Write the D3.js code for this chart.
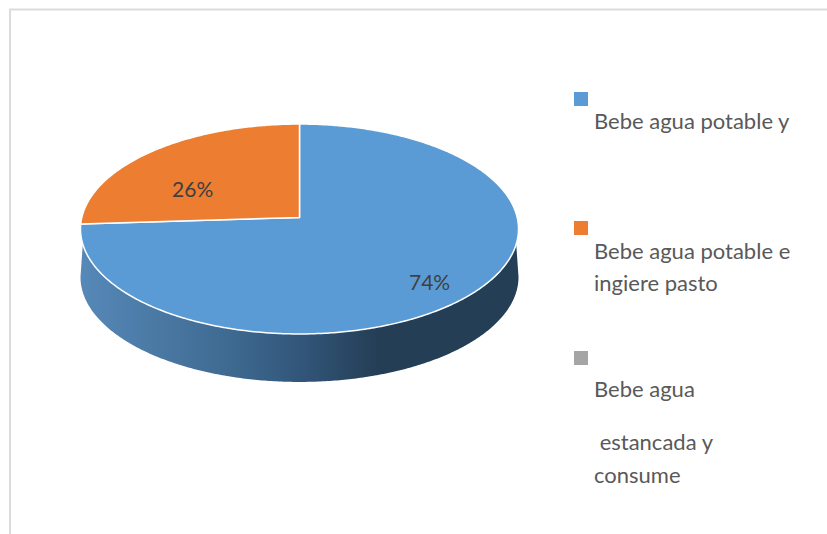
<!DOCTYPE html>
<html>
<head>
<meta charset="utf-8">
<script src="https://cdn.jsdelivr.net/npm/d3@7"></script>
<style>
  html, body { margin: 0; padding: 0; background: #fff; }
  svg { display: block; }
  text { font-family: Lato, "Open Sans", sans-serif; white-space: pre; }
</style>
</head>
<body>
<div id="chart"></div>
<script>
// data
var sliceNames = ["Bebe agua potable y", "Bebe agua potable e ingiere pasto", "Bebe agua estancada y consume"];
var sliceValues = [74, 26, 0];
var sliceColors = ["#5b9bd5", "#ed7d31", "#a5a5a5"];
var legendLines = [["Bebe agua potable y"], ["Bebe agua potable e", "ingiere pasto"], ["Bebe agua", " estancada y", "consume"]];

// layout
var width = 827, height = 534;
var cx = 299.5, cy = 217.5;   // where the pie centre lands after the tilt
var depth = 48;
var tilt = 0.1095, scaleX = 217.7, scaleY = 103.7;

var svg = d3.select("#chart").append("svg")
  .attr("width", width)
  .attr("height", height)
  .attr("viewBox", "0 0 " + width + " " + height);

// frame, only top and left are in the picture
svg.append("path")
  .attr("d", "M10,534V9.5H827")
  .attr("fill", "none")
  .attr("stroke", "#dcdcdc")
  .attr("stroke-width", 2);

// perspective: a point on the unit disc, angle from 12 o'clock going clockwise
function project(angle, r) {
  var u = Math.sin(angle) * r;
  var v = -Math.cos(angle) * r;
  var w = 1 - tilt * v;
  return [cx + scaleX * u / w, cy + scaleY * v / w];
}

function arcPoints(a0, a1) {
  var n = Math.max(2, Math.ceil(Math.abs(a1 - a0) / 0.01));
  return d3.range(n + 1).map(function(i) {
    return a0 + (a1 - a0) * i / n;
  });
}

var line = d3.line();

var pie = d3.pie().sort(null).value(function(d) { return d; });
var slices = pie(sliceValues);

// side wall gradient
var grad = svg.append("defs").append("linearGradient")
  .attr("id", "wall")
  .attr("gradientUnits", "userSpaceOnUse")
  .attr("x1", 81).attr("x2", 519).attr("y1", 0).attr("y2", 0);
[[0, "#5688b8"], [0.33, "#3f6b92"], [0.5, "#32567a"], [0.68, "#243e55"], [1, "#243e55"]].forEach(function(s) {
  grad.append("stop").attr("offset", s[0]).attr("stop-color", s[1]);
});

// wall goes along the front of the rim and back along the same rim pushed down
var rimSkip = Math.asin(0.25);
var lowSkip = Math.asin(tilt);
var upper = arcPoints(Math.PI / 2 + rimSkip, 3 * Math.PI / 2 - rimSkip).map(function(a) {
  return project(a, 1);
});
var lower = arcPoints(3 * Math.PI / 2 - lowSkip, Math.PI / 2 + lowSkip).map(function(a) {
  var p = project(a, 1);
  return [p[0], p[1] + depth];
});

svg.append("path")
  .attr("d", line(upper.concat(lower)) + "Z")
  .attr("fill", "url(#wall)");

// top face
svg.selectAll("path.slice")
  .data(slices.filter(function(d) { return d.value > 0; }))
  .enter().append("path")
  .attr("class", "slice")
  .attr("d", function(d) {
    var pts = arcPoints(d.startAngle, d.endAngle).map(function(a) { return project(a, 1); });
    return line([[cx, cy]].concat(pts)) + "Z";
  })
  .attr("fill", function(d) { return sliceColors[d.index]; })
  .attr("stroke", "#fff")
  .attr("stroke-width", 1.5)
  .attr("stroke-linejoin", "round");

// percent labels, excel nudges these off the mid angle
var labelNudge = [[-5, 5], [13, 26]];
svg.selectAll("text.pct")
  .data(slices.filter(function(d) { return d.value > 0; }))
  .enter().append("text")
  .attr("class", "pct")
  .attr("x", function(d) {
    return project((d.startAngle + d.endAngle) / 2, 0.8)[0] + labelNudge[d.index][0];
  })
  .attr("y", function(d) {
    return project((d.startAngle + d.endAngle) / 2, 0.8)[1] + labelNudge[d.index][1];
  })
  .attr("dy", "0.35em")
  .attr("text-anchor", "middle")
  .attr("font-size", 21)
  .attr("fill", "#404040")
  .text(function(d) { return d.value + "%"; });

// legend
var swatchTop = [92, 221, 351];
var lineBase = [[129], [259, 291], [397, 450, 483]];
var legend = svg.selectAll("g.legend")
  .data(sliceNames)
  .enter().append("g")
  .attr("class", "legend");

legend.append("rect")
  .attr("x", 574)
  .attr("y", function(d, i) { return swatchTop[i]; })
  .attr("width", 14)
  .attr("height", 14)
  .attr("fill", function(d, i) { return sliceColors[i]; });

legend.each(function(d, i) {
  d3.select(this).selectAll("text")
    .data(legendLines[i])
    .enter().append("text")
    .attr("x", 594)
    .attr("y", function(t, j) { return lineBase[i][j]; })
    .attr("font-size", 22)
    .attr("fill", "#595959")
    .text(function(t) { return t; });
});
</script>
</body>
</html>
